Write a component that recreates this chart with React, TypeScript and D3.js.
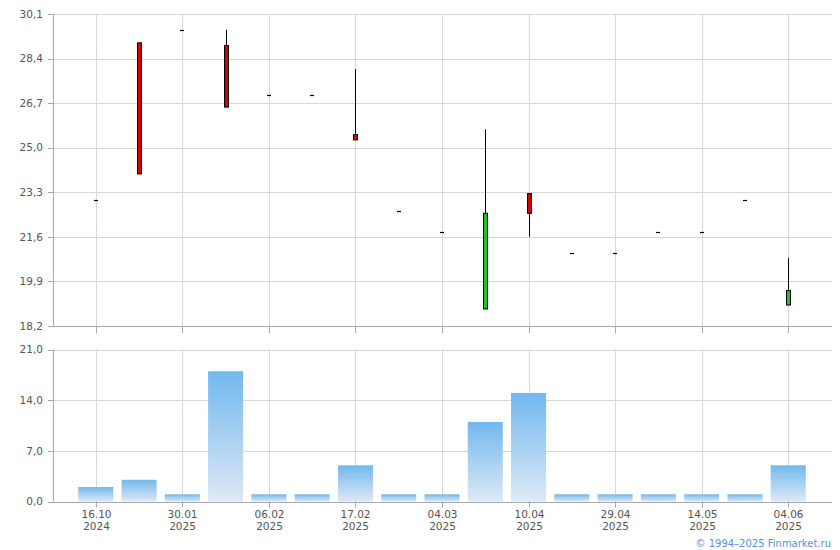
import React from "react";
import * as d3 from "d3";

const categories = [
  "16.10.2024", "03.12.2024", "30.01.2025", "04.02.2025", "06.02.2025", "12.02.2025",
  "17.02.2025", "25.02.2025", "04.03.2025", "01.04.2025", "10.04.2025", "22.04.2025",
  "29.04.2025", "07.05.2025", "14.05.2025", "26.05.2025", "04.06.2025",
];
const opens = [23.0, 29.0, 29.5, 28.9, 27.0, 27.0, 25.5, 22.6, 21.8, 18.85, 23.25, 21.0, 21.0, 21.8, 21.8, 23.0, 19.0];
const highs = [23.0, 29.0, 29.5, 29.5, 27.0, 27.0, 28.0, 22.6, 21.8, 25.7, 23.25, 21.0, 21.0, 21.8, 21.8, 23.0, 20.8];
const lows = [23.0, 24.0, 29.5, 26.55, 27.0, 27.0, 25.3, 22.6, 21.8, 18.85, 21.6, 21.0, 21.0, 21.8, 21.8, 23.0, 19.0];
const closes = [23.0, 24.0, 29.5, 26.55, 27.0, 27.0, 25.3, 22.6, 21.8, 22.5, 22.5, 21.0, 21.0, 21.8, 21.8, 23.0, 19.55];
const volumes = [2, 3, 1, 18, 1, 1, 5, 1, 1, 11, 15, 1, 1, 1, 1, 1, 5];
const priceTicks = [18.2, 19.9, 21.6, 23.3, 25.0, 26.7, 28.4, 30.1];
const volumeTicks = [0, 7, 14, 21];
const labelIndices = [0, 2, 4, 6, 8, 10, 12, 14, 16];

const W = 840, H = 550;
const L = 53, R = 832;
const pTop = 14, pBot = 326;
const vTop = 349.5, vBot = 501.5;
const FONT = "'DejaVu Sans', Verdana, sans-serif";
const GRID = "#d3d8dc";
const AXIS = "#a5a8b2";
const TXT = "#555555";

export default function App() {
  const x = d3.scalePoint<string>().domain(categories).range([L, R]).padding(1);
  const step = x.step();
  const yP = d3.scaleLinear().domain([18.2, 30.1]).range([pBot, pTop]);
  const yV = d3.scaleLinear().domain([0, 21]).range([vBot, vTop]);
  const fmt = (v: number) => v.toFixed(1).replace(".", ",");
  const barW = step * 0.81;
  const bodyW = 4;

  return (
    <svg width={W} height={H} style={{ position: "absolute", left: 0, top: 0, background: "#fff" }}>
      <defs>
        <linearGradient id="vg" x1="0" y1="0" x2="0" y2="1">
          <stop offset="0%" stopColor="#72b8ee" />
          <stop offset="100%" stopColor="#dde9f6" />
        </linearGradient>
      </defs>
      {priceTicks.map((t) => (
        <line key={"pg" + t} x1={L} x2={R} y1={Math.round(yP(t)) + 0.5} y2={Math.round(yP(t)) + 0.5} stroke={t === 18.2 ? AXIS : GRID} />
      ))}
      {labelIndices.map((i) => {
        const cx = Math.floor(x(categories[i])!) + 0.5;
        return (
          <g key={"pv" + i}>
            <line x1={cx} x2={cx} y1={pTop} y2={pBot} stroke={GRID} />
            <line x1={cx} x2={cx} y1={pBot} y2={pBot + 7} stroke={AXIS} />
          </g>
        );
      })}
      <line x1={L + 0.5} x2={L + 0.5} y1={pTop} y2={pBot} stroke={AXIS} />
      {priceTicks.map((t) => (
        <g key={"pt" + t}>
          <line x1={L - 5} x2={L} y1={Math.round(yP(t)) + 0.5} y2={Math.round(yP(t)) + 0.5} stroke={AXIS} />
          <text x={43} y={yP(t)} dy="0.35em" textAnchor="end" fontFamily={FONT} fontSize={10.5} fill={TXT}>
            {fmt(t)}
          </text>
        </g>
      ))}
      {categories.map((c, i) => {
        const cx = Math.floor(x(c)!);
        const o = opens[i], cl = closes[i], h = highs[i], lo = lows[i];
        if (h === lo) {
          const yy = Math.round(yP(h)) + 0.5;
          return <line key={"c" + i} x1={cx - 2} x2={cx + 2} y1={yy} y2={yy} stroke="#000" strokeWidth={1.2} />;
        }
        const up = cl >= o;
        const bt = yP(Math.max(o, cl));
        const bb = yP(Math.min(o, cl));
        return (
          <g key={"c" + i}>
            <line x1={cx + 0.5} x2={cx + 0.5} y1={yP(h)} y2={yP(lo)} stroke="#000" strokeWidth={1} />
            <rect x={cx - bodyW / 2 + 0.5} y={bt} width={bodyW} height={Math.max(1, bb - bt)} fill={up ? "#1ec51e" : "#d40000"} stroke="#000" strokeWidth={1} />
          </g>
        );
      })}
      {volumeTicks.map((t) => (
        <line key={"vg" + t} x1={L} x2={R} y1={Math.round(yV(t)) + 0.5} y2={Math.round(yV(t)) + 0.5} stroke={t === 0 ? AXIS : GRID} />
      ))}
      {labelIndices.map((i) => {
        const cx = Math.floor(x(categories[i])!) + 0.5;
        return <line key={"vv" + i} x1={cx} x2={cx} y1={vTop} y2={vBot} stroke={GRID} />;
      })}
      {categories.map((c, i) => (
        <rect key={"b" + i} x={x(c)! - barW / 2 - 0.5} y={yV(volumes[i])} width={barW} height={yV(0) - yV(volumes[i])} fill="url(#vg)" />
      ))}
      <line x1={L} x2={R} y1={Math.round(yV(0)) + 0.5} y2={Math.round(yV(0)) + 0.5} stroke={AXIS} />
      <line x1={L + 0.5} x2={L + 0.5} y1={vTop} y2={vBot} stroke={AXIS} />
      {volumeTicks.map((t) => (
        <g key={"vt" + t}>
          <line x1={L - 5} x2={L} y1={Math.round(yV(t)) + 0.5} y2={Math.round(yV(t)) + 0.5} stroke={AXIS} />
          <text x={43} y={yV(t)} dy="0.35em" textAnchor="end" fontFamily={FONT} fontSize={10.5} fill={TXT}>
            {fmt(t)}
          </text>
        </g>
      ))}
      {labelIndices.map((i) => {
        const cx = Math.floor(x(categories[i])!) + 0.5;
        const [dd, mm, yyyy] = categories[i].split(".");
        return (
          <g key={"xl" + i}>
            <line x1={cx} x2={cx} y1={vBot} y2={vBot + 6} stroke={AXIS} />
            <text x={cx} y={518} textAnchor="middle" fontFamily={FONT} fontSize={10.5} fill={TXT}>
              {dd + "." + mm}
            </text>
            <text x={cx} y={529.5} textAnchor="middle" fontFamily={FONT} fontSize={10.5} fill={TXT}>
              {yyyy}
            </text>
          </g>
        );
      })}
      <text x={831} y={546.5} textAnchor="end" fontFamily={FONT} fontSize={10} fill="#5b8fd8">
        © 1994–2025 Finmarket.ru
      </text>
    </svg>
  );
}
